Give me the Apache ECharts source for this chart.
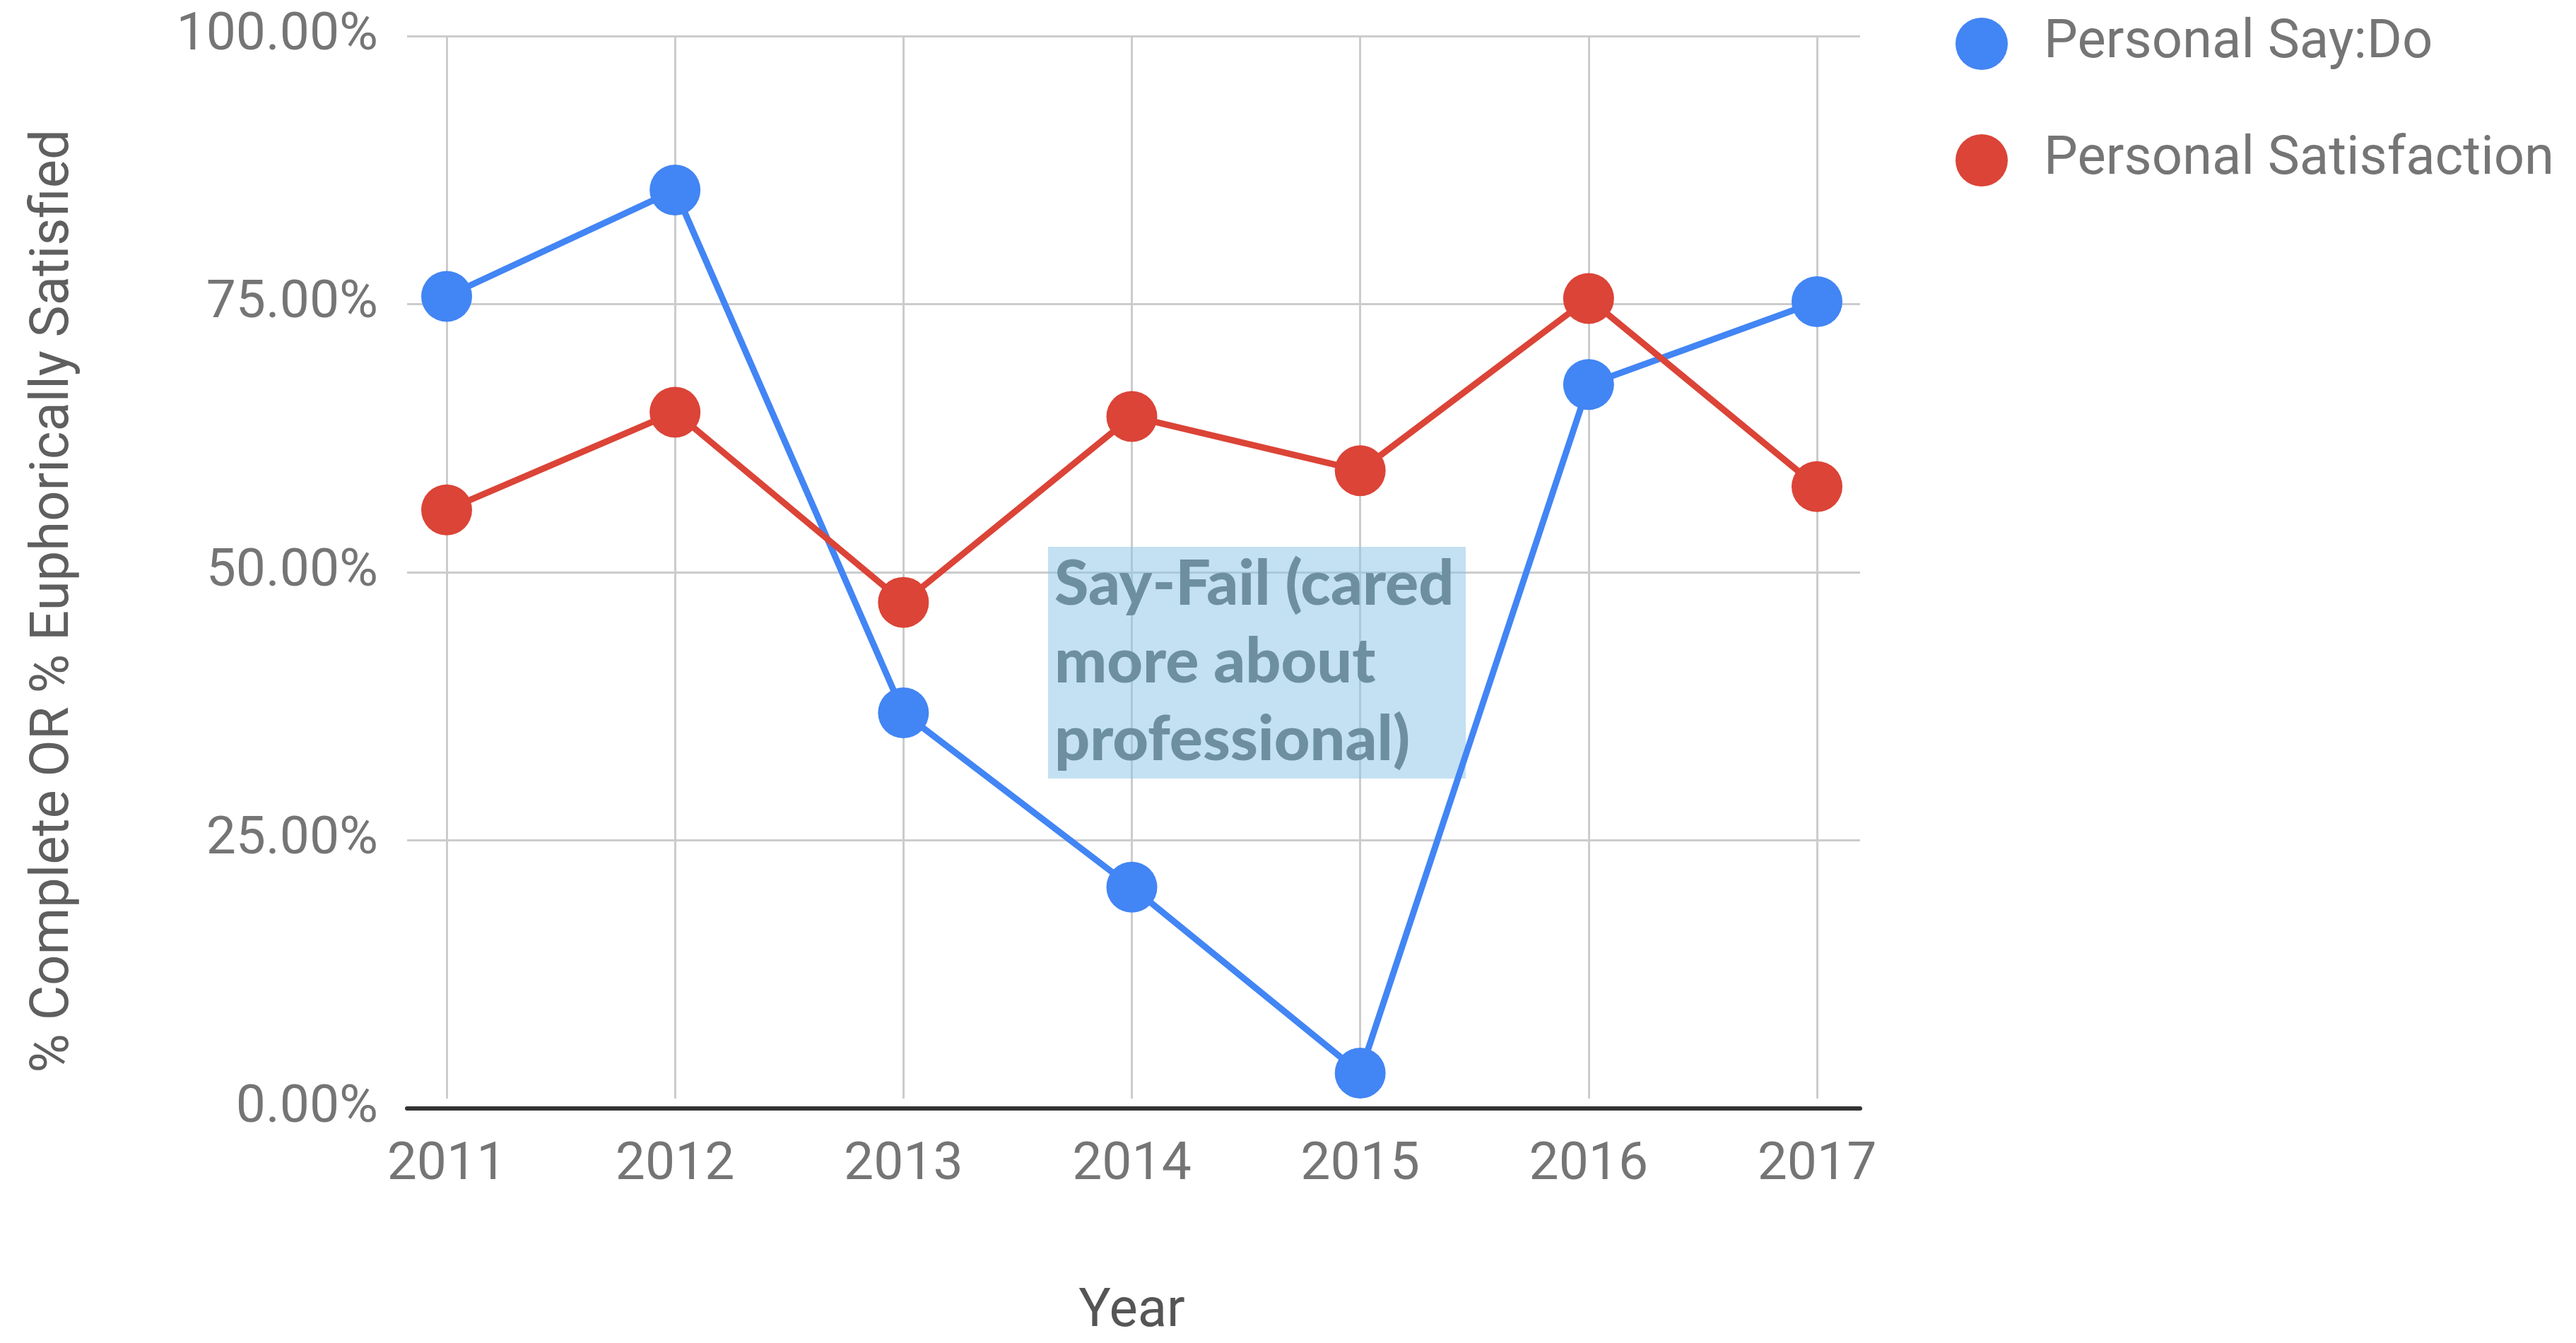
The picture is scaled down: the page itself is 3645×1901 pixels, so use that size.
<!DOCTYPE html>
<html>
<head>
<meta charset="utf-8">
<script src="https://cdn.jsdelivr.net/npm/echarts@6/dist/echarts.min.js"></script>
<style>
html,body{margin:0;padding:0;background:#fff;}
#chart{width:3645px;height:1901px;}
</style>
</head>
<body>
<div id="chart"></div>
<script>
const years = ['2011', '2012', '2013', '2014', '2015', '2016', '2017'];
const sayDo = [75.5, 85.5, 36.3, 19.9, 2.4, 67.2, 75.0];
const satisfaction = [55.4, 64.6, 46.7, 64.2, 59.1, 75.3, 57.6];
const seriesNames = ['Personal Say:Do', 'Personal Satisfaction'];
const annotationLines = ['Say-Fail (cared', 'more about', 'professional)'];
const yTitle = '% Complete OR % Euphorically Satisfied';
const xTitle = 'Year';

const chart = echarts.init(document.getElementById('chart'));
const tickColor = '#757575';
const font = 'Roboto';

const option = {
  animation: false,
  backgroundColor: '#ffffff',
  textStyle: { fontFamily: font },
  legend: {
    data: seriesNames,
    orient: 'vertical',
    left: 2762,
    top: 19,
    icon: 'circle',
    itemWidth: 74,
    itemHeight: 74,
    itemGap: 89,
    textStyle: { fontSize: 76, color: tickColor, fontFamily: font, padding: [0, 0, 0, 46] }
  },
  grid: [
    { left: 632, right: 1074, top: 51, bottom: 332 },
    { left: 576, right: 1013, top: 51, bottom: 332 }
  ],
  xAxis: [
    {
      gridIndex: 0, type: 'category', data: years, boundaryGap: false,
      axisLine: { show: false }, axisTick: { show: false },
      axisLabel: { margin: 58, fontSize: 75, color: tickColor, fontFamily: font },
      splitLine: { show: true, lineStyle: { color: '#cccccc', width: 3 } },
      name: xTitle, nameLocation: 'middle', nameGap: 265,
      nameTextStyle: { fontSize: 76, color: '#555555', fontFamily: font }
    },
    {
      gridIndex: 1, type: 'value', min: 0, max: 1,
      axisLine: { show: true, lineStyle: { color: '#333333', width: 6 } },
      axisTick: { show: false }, axisLabel: { show: false }, splitLine: { show: false }
    }
  ],
  yAxis: [
    { gridIndex: 0, type: 'value', min: 0, max: 100, show: false, splitLine: { show: false } },
    {
      gridIndex: 1, type: 'value', min: 0, max: 100, interval: 25,
      axisLine: { show: false }, axisTick: { show: false },
      axisLabel: { margin: 41, fontSize: 75, color: tickColor, fontFamily: font,
        formatter: v => v.toFixed(2) + '%' },
      splitLine: { show: true, lineStyle: { color: '#cccccc', width: 3 } }
    }
  ],
  series: [
    {
      name: seriesNames[0], type: 'line', xAxisIndex: 0, yAxisIndex: 0, data: sayDo,
      symbol: 'circle', symbolSize: 72, showSymbol: true,
      lineStyle: { color: '#4285f4', width: 9 }, itemStyle: { color: '#4285f4' },
      z: 3
    },
    {
      name: seriesNames[1], type: 'line', xAxisIndex: 0, yAxisIndex: 0, data: satisfaction,
      symbol: 'circle', symbolSize: 72, showSymbol: true,
      lineStyle: { color: '#db4437', width: 9 }, itemStyle: { color: '#db4437' },
      z: 4
    }
  ],
  graphic: [
    {
      type: 'text', x: 77, y: 851, rotation: Math.PI / 2, z: 10,
      style: { text: yTitle, fontSize: 76, fill: '#5f5f5f', fontFamily: font,
        align: 'center', verticalAlign: 'middle' }
    },
    {
      type: 'rect', x: 1483, y: 774, z: 1,
      shape: { width: 591, height: 328 },
      style: { fill: 'rgba(135,196,230,0.5)' }
    },
    {
      type: 'text', x: 1492, y: 773, z: 1,
      style: { text: annotationLines.join('\n'), fontSize: 88, fontWeight: 900,
        fontFamily: 'Lato', fill: '#6e8f9f', lineHeight: 110,
        align: 'left', verticalAlign: 'top' }
    }
  ]
};
chart.setOption(option);
</script>
</body>
</html>
